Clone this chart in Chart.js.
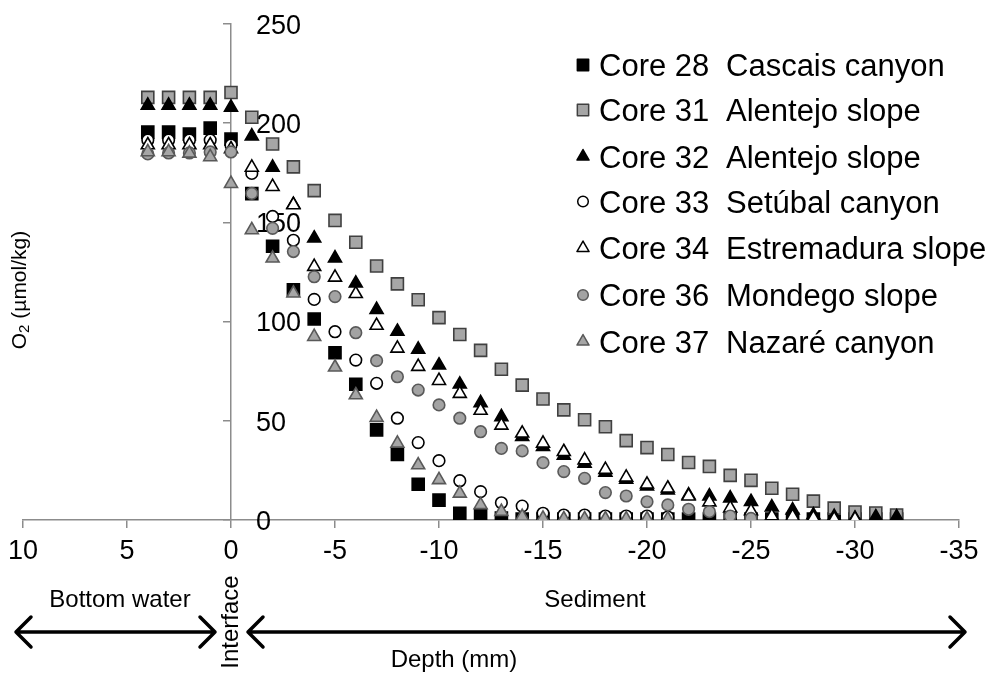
<!DOCTYPE html>
<html>
<head>
<meta charset="utf-8">
<script src="https://cdn.jsdelivr.net/npm/chart.js@4.4.0/dist/chart.umd.min.js"></script>
<style>
  html, body { margin: 0; padding: 0; background: #fff; }
  #wrap { width: 993px; height: 675px; }
</style>
</head>
<body>
<div id="wrap"><canvas id="chart" width="993" height="675"></canvas></div>
<script>
// Depth (mm): positive = bottom water, 0 = interface, negative = sediment
const depths = [4, 3, 2, 1, 0, -1, -2, -3, -4, -5, -6, -7, -8, -9, -10, -11, -12, -13, -14, -15,
  -16, -17, -18, -19, -20, -21, -22, -23, -24, -25, -26, -27, -28, -29, -30, -31, -32];

// O2 (umol/kg) per core, one value per depth (null = no point)
const core28 = [195.5, 195.5, 194.5, 197.5, 192, 164.5, 138, 116, 101.3, 84.3, 68.4, 45.4, 33, 18, 10,
  3.4, 2.5, 1, 0.5, 0.5, 0.5, 0.5, 0.5, 0.5, 0.5, 0.5, 0.5, 0.5, 0.5, 0.5, 0.5, 0.5, 0.5, 0.5, 0.5, 0.5, 0.5];
const core31 = [213, 213, 213, 213, 215.5, 203, 189.5, 178, 166, 151, 140, 128, 119, 111, 102,
  93.5, 85.5, 76, 68, 61, 55.5, 50.5, 47, 40, 36.5, 33, 29, 27, 22.5, 20, 16, 13, 9.5, 6, 4, 3.5, 2.5];
const core32 = [209, 209, 209, 209, 208, 193.5, 177.7, 159, 142, 132, 119.3, 106, 95, 86, 78,
  68.4, 59, 52, 42, 37, 32.5, 28.5, 24, 20.5, 17, 15, 12.5, 12, 11, 9.2, 6.5, 5, 2.5, 1.7, 0.8, 1.5, 1.5];
const core33 = [191.5, 191.5, 191.5, 191.5, 189, 174.7, 153, 141, 111.2, 94.9, 80.6, 68.9, 51.3, 39, 29.9,
  19.8, 14.3, 8.7, 7, 3.4, 2.5, 2.5, 2, 2, 2, 1.5, null, null, null, null, null, null, null, null, null, null, null];
const core34 = [189, 189, 189, 189, 187, 177.7, 168, 158.8, 127.7, 122.3, 114, 98, 86.5, 77.3, 70.2,
  63.7, 55.2, 47.7, 43.7, 38.6, 34.4, 30.2, 25.4, 21.5, 18, 16, 12, 9, 6, 4.5, 2, 1.7, 1, 0.5, 0.5, null, null];
const core36 = [184.5, 185, 185, 185.5, 185.5, 164.6, 147, 135.3, 122.6, 112.6, 94.4, 80.3, 72.2, 65.5, 58,
  51.3, 44.5, 36.1, 34.8, 28.9, 24.4, 21, 13.8, 12.1, 9.2, 7.6, 5.4, 4.2, 2, 0.8, null, null, null, null, null, null, null];
const core37 = [185.5, 185.5, 184.8, 183, 169.5, 146.2, 131.9, 114.3, 92.4, 77, 63, 51.6, 38.6, 27.7, 20.2,
  13.4, 7.6, 4.2, 1.7, 0.8, 0.5, 0.5, 0.5, 0.5, 0.5, 0.5, null, null, null, null, null, null, null, null, null, null, null];

const coreNames = ["Core 28", "Core 31", "Core 32", "Core 33", "Core 34", "Core 36", "Core 37"];
const siteNames = ["Cascais canyon", "Alentejo slope", "Alentejo slope", "Setúbal canyon",
  "Estremadura slope", "Mondego slope", "Nazaré canyon"];
const seriesValues = [core28, core31, core32, core33, core34, core36, core37];

const xTicks = [10, 5, 0, -5, -10, -15, -20, -25, -30, -35];
const yTicks = [0, 50, 100, 150, 200, 250];

const FONT = "'Liberation Sans', Arial, sans-serif";
const axisGray = "#8c8c8c";

// marker look for each core
const markers = [
  { style: "rect", radius: 8.5, fill: "#000000", border: "#000000" },
  { style: "rect", radius: 8.5, fill: "#a6a6a6", border: "#404040" },
  { style: "triangle", radius: 7.5, fill: "#000000", border: "#000000" },
  { style: "circle", radius: 5.8, fill: "#ffffff", border: "#000000" },
  { style: "triangle", radius: 7.5, fill: "#ffffff", border: "#000000" },
  { style: "circle", radius: 5.8, fill: "#a3a3a3", border: "#595959" },
  { style: "triangle", radius: 7.5, fill: "#a6a6a6", border: "#595959" },
];

function toPoints(values) {
  const pts = [];
  values.forEach((v, i) => {
    if (v !== null) pts.push({ x: depths[i], y: v });
  });
  return pts;
}

const datasets = seriesValues.map((vals, i) => ({
  label: coreNames[i] + "  " + siteNames[i],
  data: toPoints(vals),
  pointStyle: markers[i].style,
  pointRadius: markers[i].radius,
  pointHoverRadius: markers[i].radius,
  pointBackgroundColor: markers[i].fill,
  pointBorderColor: markers[i].border,
  pointBorderWidth: 1.6,
  showLine: false,
  order: seriesValues.length - i, // later cores drawn on top
}));

// Text, arrows, legend and y labels drawn on the canvas
const annotations = {
  id: "annotations",
  beforeDatasetsDraw(chart) {
    const ctx = chart.ctx;
    const xs = chart.scales.x;
    const ys = chart.scales.y;
    const axisX = xs.getPixelForValue(0);
    ctx.save();
    ctx.fillStyle = "#000";
    ctx.font = "27px " + FONT;
    ctx.textAlign = "left";
    ctx.textBaseline = "alphabetic";
    yTicks.forEach((t) => {
      ctx.fillText(String(t), axisX + 25, ys.getPixelForValue(t) + 9.7);
    });
    ctx.restore();
  },
  afterDraw(chart) {
    const ctx = chart.ctx;
    ctx.save();
    ctx.fillStyle = "#000";

    // y axis title with subscript
    ctx.save();
    ctx.translate(20, 290);
    ctx.rotate(-Math.PI / 2);
    ctx.textBaseline = "middle";
    ctx.textAlign = "left";
    const bigFont = "21px " + FONT;
    const subFont = "15px " + FONT;
    ctx.font = bigFont;
    const wO = ctx.measureText("O").width;
    const wRest = ctx.measureText(" (µmol/kg)").width;
    ctx.font = subFont;
    const w2 = ctx.measureText("2").width;
    const start = -(wO + w2 + wRest) / 2;
    ctx.font = bigFont;
    ctx.fillText("O", start, 0);
    ctx.font = subFont;
    ctx.fillText("2", start + wO, 5);
    ctx.font = bigFont;
    ctx.fillText(" (µmol/kg)", start + wO + w2, 0);
    ctx.restore();

    // region labels
    ctx.font = "24px " + FONT;
    ctx.textAlign = "center";
    ctx.textBaseline = "alphabetic";
    ctx.fillText("Bottom water", 120, 607);
    ctx.fillText("Sediment", 595, 607);
    ctx.fillText("Depth (mm)", 454, 667);

    ctx.save();
    ctx.translate(231, 622);
    ctx.rotate(-Math.PI / 2);
    ctx.textBaseline = "middle";
    ctx.fillText("Interface", 0, 0);
    ctx.restore();

    // double-headed arrows
    ctx.strokeStyle = "#000";
    ctx.lineWidth = 3.5;
    ctx.lineCap = "round";
    ctx.lineJoin = "round";
    const arrowY = 632;
    const drawArrow = (x1, x2) => {
      ctx.beginPath();
      ctx.moveTo(x1, arrowY);
      ctx.lineTo(x2, arrowY);
      ctx.moveTo(x1 + 15, arrowY - 15);
      ctx.lineTo(x1, arrowY);
      ctx.lineTo(x1 + 15, arrowY + 15);
      ctx.moveTo(x2 - 15, arrowY - 15);
      ctx.lineTo(x2, arrowY);
      ctx.lineTo(x2 - 15, arrowY + 15);
      ctx.stroke();
    };
    drawArrow(16, 215);
    drawArrow(248, 965);

    // legend
    const rowY = [65, 110, 156.5, 201.5, 248, 295, 341.5];
    coreNames.forEach((name, i) => {
      const m = markers[i];
      ctx.fillStyle = m.fill;
      ctx.strokeStyle = m.border;
      ctx.lineWidth = 1.5;
      Chart.helpers.drawPoint(ctx, { pointStyle: m.style, radius: m.radius - 0.5, borderWidth: 1.5, rotation: 0 }, 583, rowY[i]);
      ctx.fillStyle = "#000";
      ctx.font = "31px " + FONT;
      ctx.textAlign = "left";
      ctx.textBaseline = "alphabetic";
      ctx.fillText(name, 599, rowY[i] + 11);
      ctx.fillText(siteNames[i], 726, rowY[i] + 11);
    });
    ctx.restore();
  },
};

new Chart(document.getElementById("chart"), {
  type: "scatter",
  data: { datasets: datasets },
  options: {
    responsive: false,
    devicePixelRatio: 1,
    animation: false,
    layout: { padding: { left: 23, right: 34, top: 24, bottom: 0 } },
    plugins: {
      legend: { display: false },
      tooltip: { enabled: false },
    },
    scales: {
      x: {
        type: "linear",
        position: "bottom",
        reverse: true,
        min: -35,
        max: 10,
        afterBuildTicks: (scale) => {
          scale.ticks = xTicks.map((v) => ({ value: v }));
        },
        afterFit: (scale) => {
          scale.height = 155;
        },
        ticks: {
          color: "#000",
          font: { family: FONT, size: 27 },
          padding: 7,
          maxRotation: 0,
          autoSkip: false,
        },
        grid: { drawOnChartArea: false, tickLength: 8, color: axisGray, lineWidth: 1.5 },
        border: { color: axisGray, width: 1.5 },
      },
      y: {
        type: "linear",
        position: { x: 0 },
        min: 0,
        max: 250,
        afterBuildTicks: (scale) => {
          scale.ticks = yTicks.map((v) => ({ value: v }));
        },
        ticks: { display: false },
        grid: { drawOnChartArea: false, tickLength: 7, color: axisGray, lineWidth: 1.5 },
        border: { color: axisGray, width: 1.5 },
      },
    },
  },
  plugins: [annotations],
});
</script>
</body>
</html>
